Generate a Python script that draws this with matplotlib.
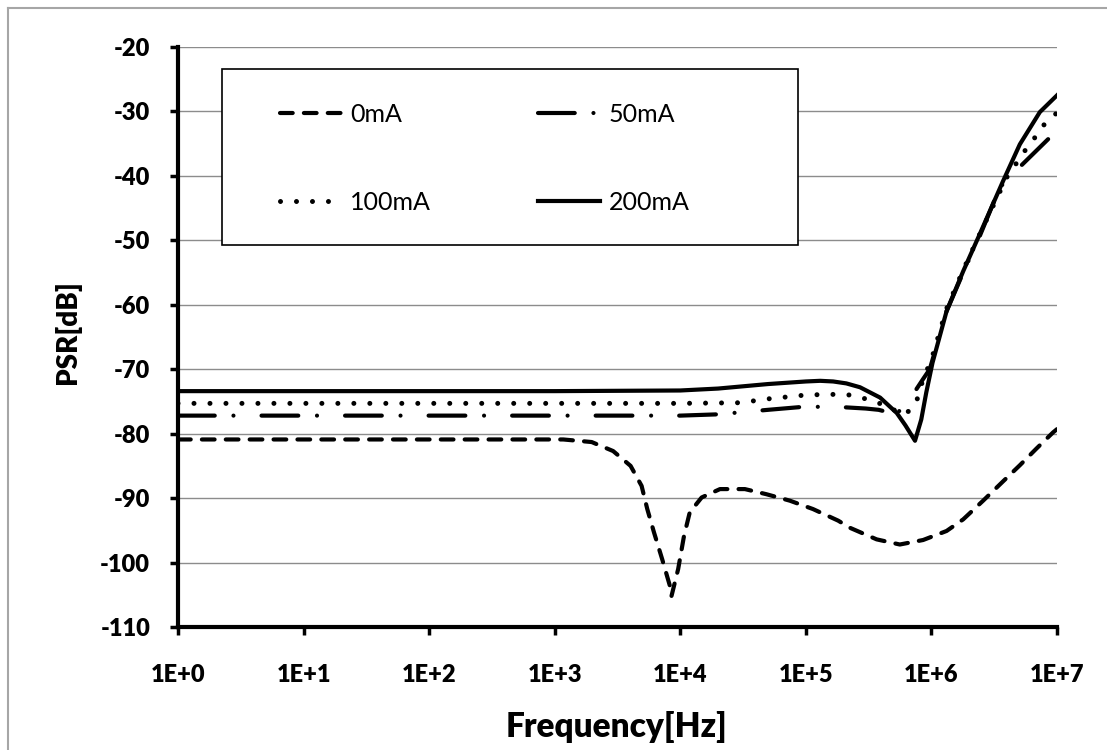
import matplotlib
matplotlib.use("Agg")
import numpy as np
import matplotlib.pyplot as plt
from matplotlib.ticker import FixedLocator, NullLocator, FixedFormatter
from matplotlib.patches import Rectangle
from matplotlib.lines import Line2D

plt.rcParams['lines.scale_dashes'] = False
plt.rcParams['font.family'] = ['Lato', 'DejaVu Sans']

# ---------------- data ----------------
freq_0mA = [1, 10, 100, 1000, 1170, 1970, 2920, 4020, 4920, 5460, 6170, 7180,
            8260, 8510, 9620, 10700, 11900, 14800, 20700, 32700, 48600, 74600,
            114000, 181000, 224000, 366000, 560000, 859000, 1320000, 1790000,
            2580000, 3720000, 5060000, 6870000, 9310000, 10000000]
psr_0mA = [-80.9, -80.9, -80.9, -80.9, -80.9, -81.3, -82.7, -85.0, -88.1, -91.7,
           -95.3, -99.5, -103.6, -105.2, -101.0, -95.9, -92.2, -89.9, -88.6,
           -88.6, -89.4, -90.4, -91.7, -93.5, -94.6, -96.4, -97.2, -96.5, -95.1,
           -93.3, -90.4, -87.4, -84.9, -82.3, -79.8, -79.3]

freq_50mA = [1, 10, 100, 1000, 10000, 20000, 50000, 100000, 200000, 300000,
             380000, 525000, 670000, 860000, 970000, 1320000, 1790000, 2430000,
             3500000, 5060000, 8500000]
psr_50mA = [-77.2, -77.2, -77.2, -77.2, -77.2, -77.0, -76.3, -75.8, -75.9, -76.1,
            -76.3, -77.0, -74.7, -71.5, -70.0, -61.0, -55.0, -49.3, -41.8,
            -38.6, -34.3]

freq_100mA = [1, 10, 100, 1000, 10000, 30000, 50000, 100000, 160000, 225000,
              300000, 400000, 500000, 620000, 750000, 860000, 1000000, 1320000,
              1790000, 2430000, 3960000, 5550000, 6530000, 7760000, 10000000]
psr_100mA = [-75.3, -75.3, -75.3, -75.3, -75.3, -75.2, -74.6, -74.0, -73.9, -74.0,
             -74.6, -75.4, -76.3, -77.0, -75.4, -71.5, -68.5, -60.6, -54.6, -49.0,
             -40.3, -36.1, -34.3, -32.2, -30.2]

freq_200mA = [1, 10, 100, 1000, 10000, 20000, 50000, 100000, 130000, 165000,
              210000, 270000, 390000, 530000, 620000, 740000, 830000, 910000,
              1020000, 1320000, 1790000, 2430000, 3720000, 5060000, 7300000,
              10000000]
psr_200mA = [-73.4, -73.4, -73.4, -73.4, -73.3, -73.0, -72.3, -71.9, -71.8, -71.9,
             -72.2, -72.8, -74.4, -76.8, -78.7, -81.1, -77.8, -73.6, -69.0, -61.0,
             -54.8, -49.0, -40.8, -35.1, -30.1, -27.5]

labels = ['0mA', '50mA', '100mA', '200mA']
xticks = [1, 10, 100, 1000, 10000, 100000, 1000000, 10000000]
xtick_labels = ['1E+0', '1E+1', '1E+2', '1E+3', '1E+4', '1E+5', '1E+6', '1E+7']
yticks = [-110, -100, -90, -80, -70, -60, -50, -40, -30, -20]

# ---------------- figure ----------------
W, H = 1107, 750
fig = plt.figure(figsize=(W / 100, H / 100), dpi=100)
fig.patch.set_facecolor('white')
ax = fig.add_axes([178 / W, 1 - 627 / H, 879 / W, 580 / H])

ax.set_xscale('log')
ax.set_xlim(1, 1e7)
ax.set_ylim(-110, -20)


def fitted_dashes(xs, ys, base, end_phase):
    """Stretch a dash pattern slightly so the curve ends at a given phase."""
    pts = ax.transData.transform(np.column_stack([xs, ys]))
    length = np.sum(np.hypot(*np.diff(pts, axis=0).T)) * 72.0 / fig.dpi
    period = sum(base)
    frac = end_phase / period
    n = max(1, round(length / period - frac))
    k = length / ((n + frac) * period)
    return tuple(v * k for v in base)


lw = 3.0
d0 = fitted_dashes(freq_0mA, psr_0mA, (9.2, 8.1), 9.2)
l0, = ax.plot(freq_0mA, psr_0mA, color='black', lw=lw, dashes=d0,
              dash_capstyle='round', label=labels[0], zorder=3)
d50 = fitted_dashes(freq_50mA, psr_50mA, (27.5, 14.0, 0.01, 21.0), 27.5)
l50, = ax.plot(freq_50mA, psr_50mA, color='black', lw=lw, dashes=d50,
               dash_capstyle='round', label=labels[1], zorder=3)
l100, = ax.plot(freq_100mA, psr_100mA, color='black', lw=3.6, dashes=(0.01, 11.5),
                dash_capstyle='round', label=labels[2], zorder=3)
l200, = ax.plot(freq_200mA, psr_200mA, color='black', lw=lw, solid_joinstyle='round',
                label=labels[3], zorder=3)

ax.xaxis.set_major_locator(FixedLocator(xticks))
ax.xaxis.set_minor_locator(NullLocator())
ax.xaxis.set_major_formatter(FixedFormatter(xtick_labels))
ax.set_yticks(yticks)
ax.set_yticklabels([str(v) for v in yticks])

ax.grid(axis='y', color='#8c8c8c', lw=1.0)
ax.set_axisbelow(True)
for s in ['top', 'right']:
    ax.spines[s].set_visible(False)
for s in ['left', 'bottom']:
    ax.spines[s].set_linewidth(3.0)
    ax.spines[s].set_color('black')

ax.tick_params(axis='both', direction='out', length=6, width=2.5, color='black',
               labelsize=17)
ax.tick_params(axis='y', pad=14)
ax.tick_params(axis='x', pad=21)
for t in ax.get_xticklabels() + ax.get_yticklabels():
    t.set_fontweight('heavy')

ax.set_xlabel('Frequency[Hz]', fontsize=24, fontweight='heavy', va='center')
ax.xaxis.set_label_coords(0.499, -0.172)
ax.set_ylabel('PSR[dB]', fontsize=20, fontweight='heavy', va='center', ha='center')
ax.yaxis.set_label_coords(-0.126, 0.509)

# legend box
x0 = (222 - 178) / 879
x1 = (798 - 178) / 879
y1 = (627 - 69) / 580
y0 = (627 - 245) / 580
ax.add_patch(Rectangle((x0, y0), x1 - x0, y1 - y0, transform=ax.transAxes,
                       facecolor='white', edgecolor='black', lw=1.2, zorder=4))
leg = ax.legend(handles=[l0, l100, l50, l200], ncol=2, frameon=False,
                loc='upper left', bbox_to_anchor=((280 - 178) / 879, (627 - 103) / 580),
                borderpad=0, borderaxespad=0, fontsize=18, handlelength=2.48,
                handletextpad=0.32, labelspacing=2.6, columnspacing=4.3)
leg.set_zorder(5)

# chart-area border (left and top visible in reference)
fig.add_artist(Line2D([8 / W, 8 / W], [0, 1 - 8 / H], transform=fig.transFigure,
                      color='#a6a6a6', lw=1.5))
fig.add_artist(Line2D([8 / W, 1], [1 - 8 / H, 1 - 8 / H], transform=fig.transFigure,
                      color='#a6a6a6', lw=1.5))

fig.savefig('out.png', dpi=100)
